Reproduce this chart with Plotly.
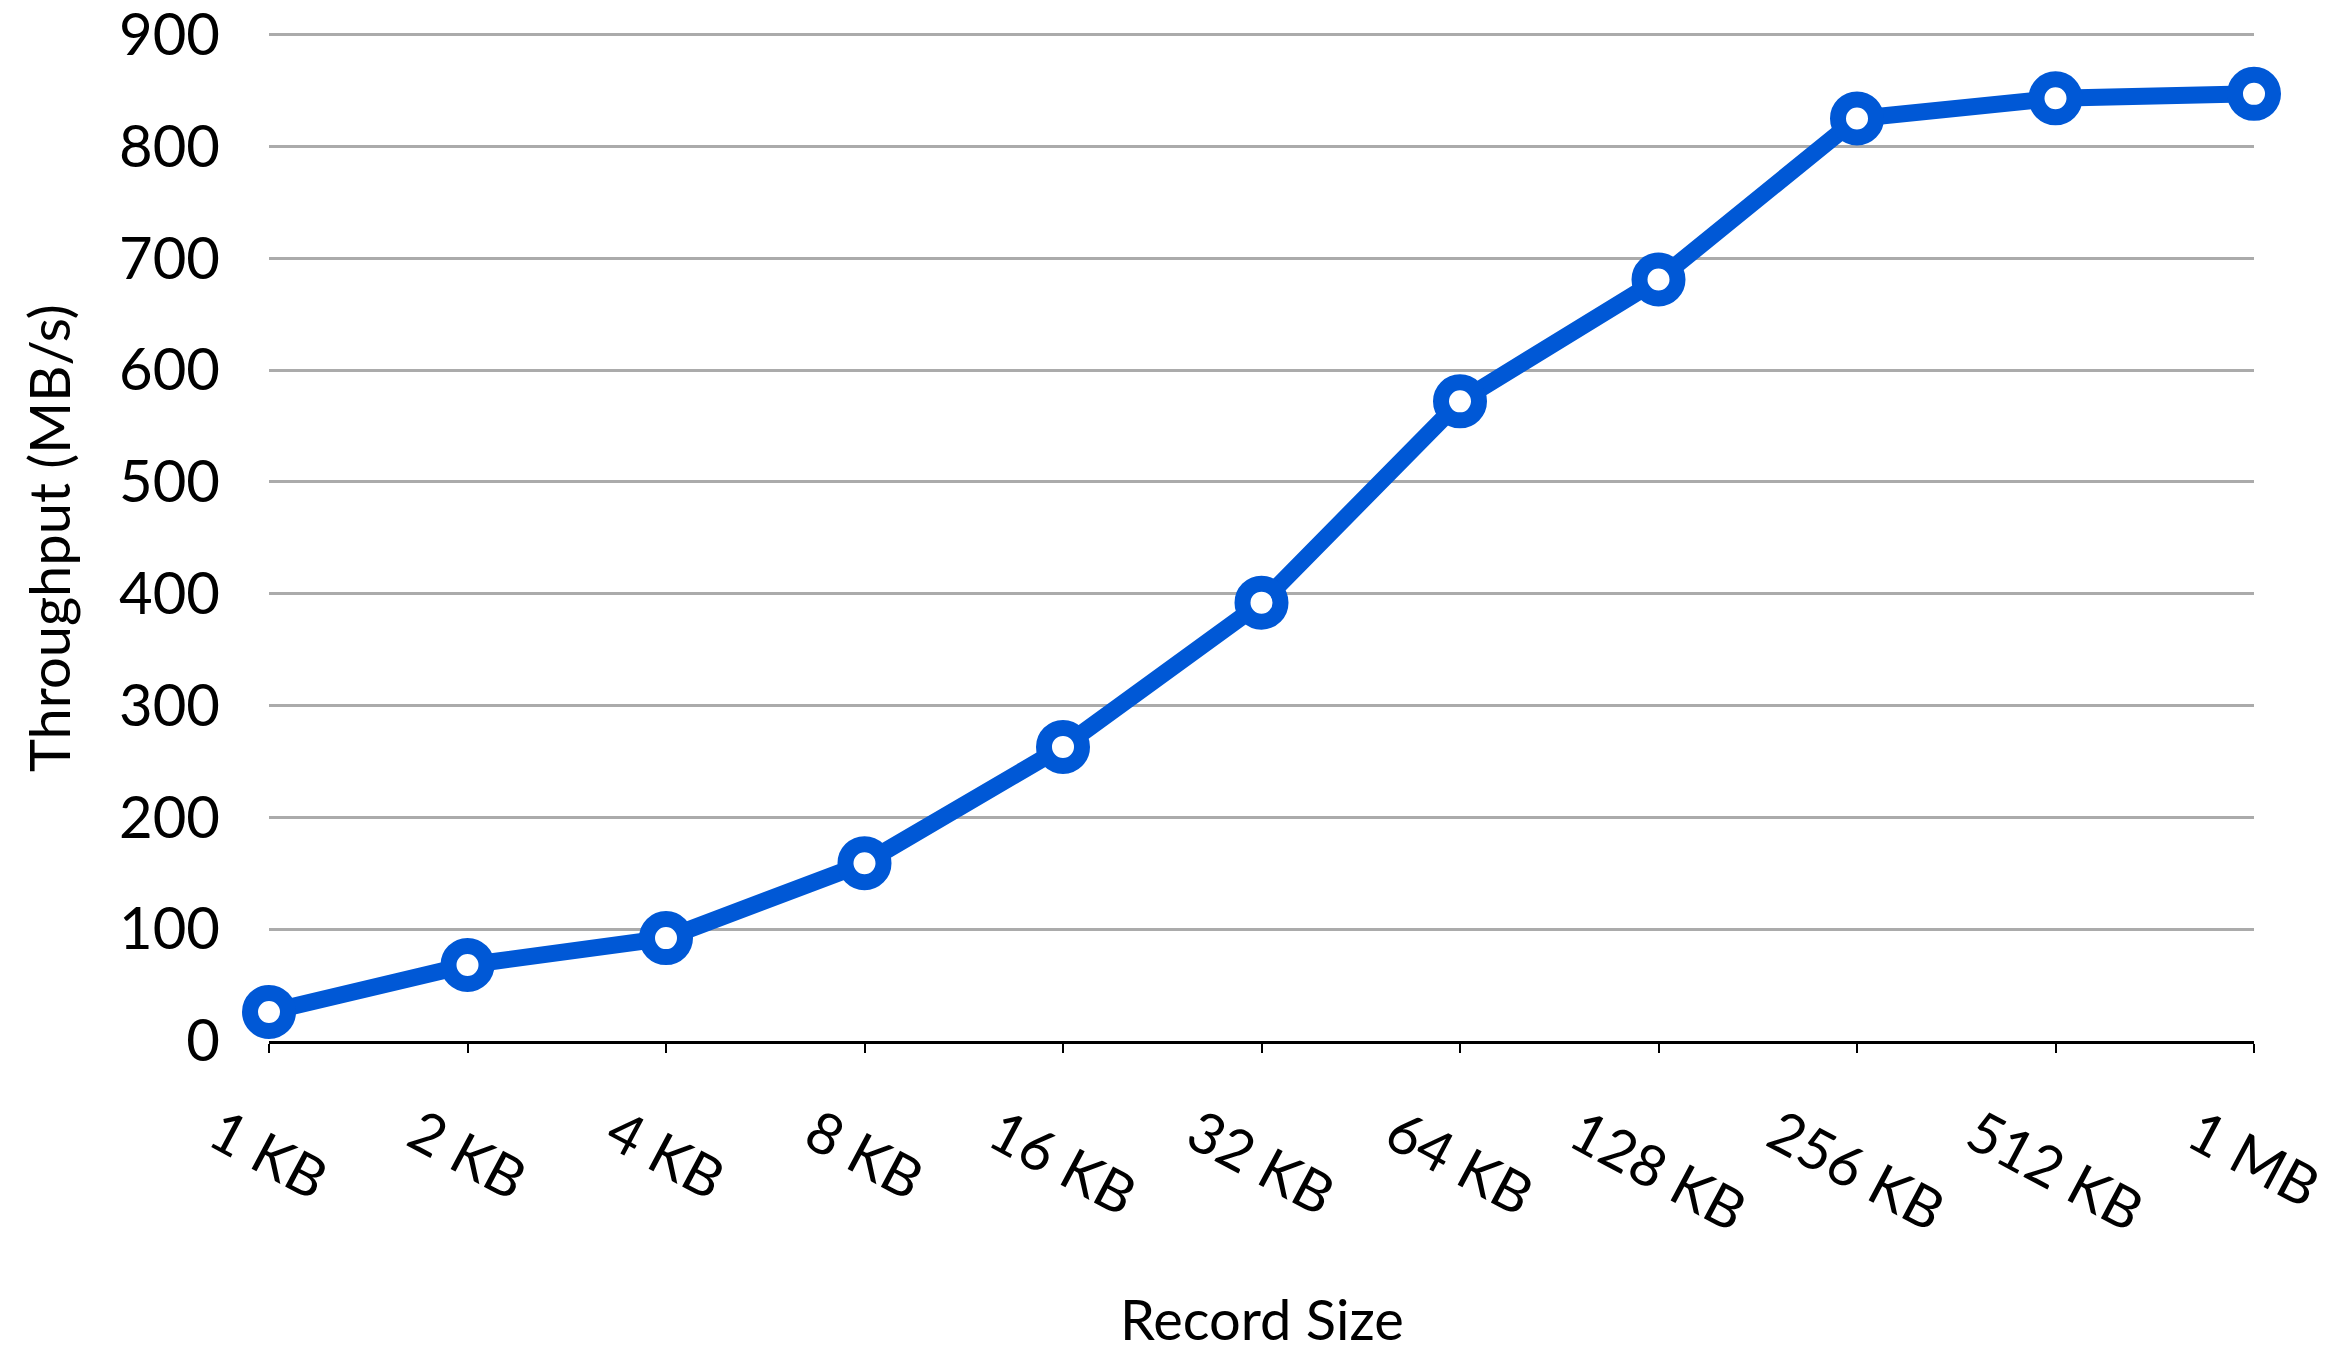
import plotly.graph_objects as go

record_sizes = ["1 KB", "2 KB", "4 KB", "8 KB", "16 KB", "32 KB", "64 KB",
                "128 KB", "256 KB", "512 KB", "1 MB"]
throughput = [26, 68, 92, 159, 263, 392, 572, 681, 825, 843, 847]
y_ticks = [0, 100, 200, 300, 400, 500, 600, 700, 800, 900]

BLUE = "#0058D6"
FONT = "Lato"

fig = go.Figure()
fig.add_trace(go.Scatter(
    x=record_sizes, y=throughput, mode="lines+markers",
    line=dict(color=BLUE, width=17),
    marker=dict(symbol="circle", size=38, color="white",
                line=dict(color=BLUE, width=16)),
    cliponaxis=False, showlegend=False, hoverinfo="skip",
))

annotations = []
for lab in record_sizes:
    annotations.append(dict(
        x=lab, xref="x", y=0, yref="paper", text=lab, showarrow=False,
        textangle=28, xanchor="center", yanchor="top", yshift=-51,
        font=dict(family=FONT, size=57, color="black"),
    ))
annotations.append(dict(
    x=0.5, xref="paper", y=-0.2767, yref="paper", yshift=3,
    text="Record Size", showarrow=False, xanchor="center", yanchor="middle",
    font=dict(family=FONT, size=56, color="black"),
))
annotations.append(dict(
    x=-0.1113, xref="paper", y=0.497, yref="paper", text="Throughput (MB/s)",
    showarrow=False, xanchor="center", yanchor="middle", textangle=-90,
    font=dict(family=FONT, size=56, color="black"),
))

fig.update_layout(
    width=2336, height=1340,
    margin=dict(l=261, r=90, t=21, b=307, autoexpand=False),
    paper_bgcolor="white", plot_bgcolor="white",
    font=dict(family=FONT, size=56, color="black"),
    annotations=annotations,
    xaxis=dict(
        type="category", range=[0, len(record_sizes) - 1], automargin=False,
        showticklabels=False, showgrid=False, zeroline=False,
        showline=True, linecolor="black", linewidth=3,
        ticks="outside", ticklen=9, tickwidth=2, tickcolor="black",
    ),
    yaxis=dict(
        range=[0, 905], tickvals=y_ticks, ticktext=[str(v) for v in y_ticks],
        automargin=False,
        showgrid=True, gridcolor="#ababab", gridwidth=3,
        zeroline=False, showline=False, ticks="",
        ticklabelstandoff=48, ticklabeloverflow="allow",
        tickfont=dict(family=FONT, size=58, color="black"),
    ),
)

fig.write_html("out.html")
